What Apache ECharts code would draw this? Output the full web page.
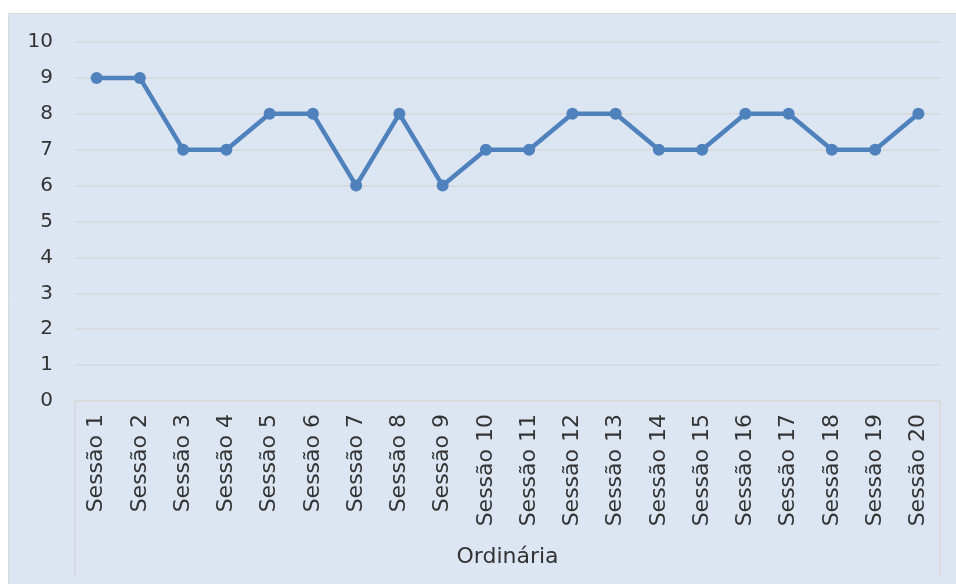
<!DOCTYPE html>
<html>
<head>
<meta charset="utf-8">
<script src="https://cdn.jsdelivr.net/npm/echarts@6/dist/echarts.min.js"></script>
<style>
  html, body { margin: 0; padding: 0; background: #fff; }
  #main { width: 956px; height: 584px; }
</style>
</head>
<body>
<div id="main"></div>
<script>
// categorias e valores
var sessoes = []
for (var i = 1; i <= 20; i++) sessoes.push('Sessão ' + i)
var valores = [9, 9, 7, 7, 8, 8, 6, 8, 6, 7, 7, 8, 8, 7, 7, 8, 8, 7, 7, 8]
var grupo = ['Ordinária']

var myChart = echarts.init(document.getElementById('main'))
var fonte = '"DejaVu Sans", sans-serif'
var corTexto = '#333333'

var option = {
  animation: false,
  graphic: [{
    type: 'rect',
    left: 8, top: 13,
    shape: { width: 960, height: 580 },
    style: { fill: '#dce6f2', stroke: '#d9d9d9', lineWidth: 1 },
    z: -10
  }],
  grid: { left: 75, right: 16, top: 42, bottom: 183, containLabel: false },
  xAxis: [{
    type: 'category',
    data: sessoes,
    position: 'bottom',
    axisLine: { lineStyle: { color: '#d9d9d9', width: 1.5 } },
    axisTick: { show: false },
    axisLabel: {
      rotate: 90, fontSize: 22, color: corTexto, fontFamily: fonte,
      margin: 13, interval: 0
    }
  }, {
    type: 'category',
    data: grupo,
    position: 'bottom',
    axisLine: { show: false },
    axisTick: { show: true, length: 175, lineStyle: { color: '#d9d9d9', width: 1.5 } },
    axisLabel: { fontSize: 22, color: corTexto, fontFamily: fonte, margin: 145 }
  }],
  yAxis: {
    type: 'value',
    min: 0, max: 10, interval: 1,
    axisLine: { show: false },
    axisTick: { show: false },
    axisLabel: { fontSize: 20, color: corTexto, fontFamily: fonte, margin: 22 },
    splitLine: { lineStyle: { color: '#d9d9d9', width: 1.5 } }
  },
  series: [{
    type: 'line',
    data: valores,
    xAxisIndex: 0,
    symbol: 'circle',
    symbolSize: 12,
    itemStyle: { color: '#4f81bd' },
    lineStyle: { color: '#4f81bd', width: 4.5 }
  }]
}
myChart.setOption(option)
window.onresize = () => { myChart.resize() }
</script>
</body>
</html>
